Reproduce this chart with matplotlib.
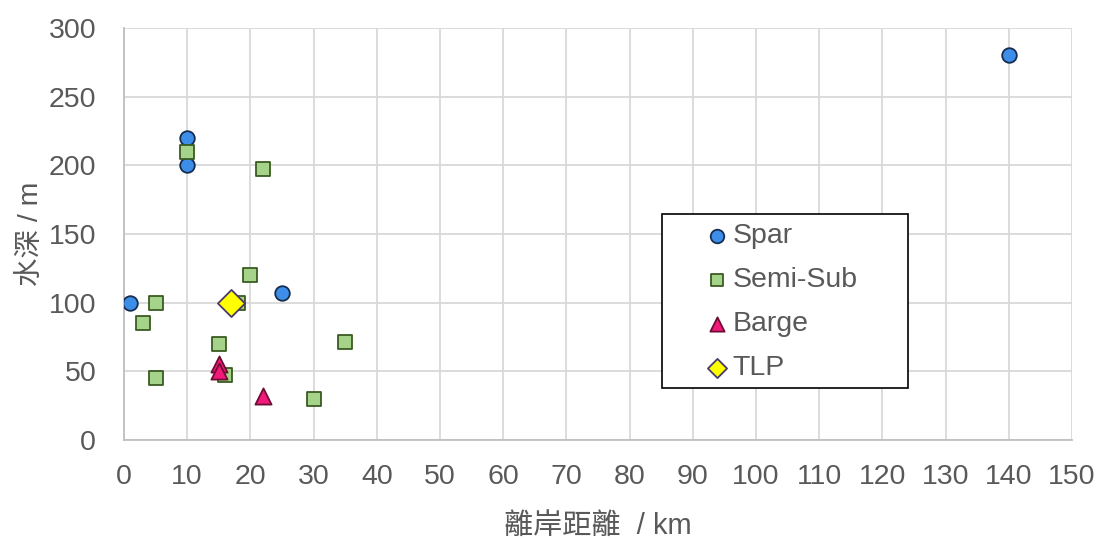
import matplotlib
matplotlib.use("Agg")
import matplotlib.pyplot as plt
from matplotlib.patches import Rectangle

plt.rcParams['font.family'] = ['Liberation Sans', 'Noto Sans CJK TC', 'DejaVu Sans']

# Offshore wind floating platforms: distance from shore (km) vs water depth (m)
spar_x = [10, 10, 1, 25, 140]
spar_y = [220, 200, 100, 107, 280]

semisub_x = [10, 22, 20, 5, 18, 3, 15, 16, 5, 35, 30]
semisub_y = [210, 197, 120, 100, 100, 85, 70, 47, 45, 71, 30]

barge_x = [15, 15, 22]
barge_y = [55, 50, 32]

tlp_x = [17]
tlp_y = [100]

x_ticks = list(range(0, 151, 10))
y_ticks = list(range(0, 301, 50))

text_color = '#595959'
tick_size = 20.5

fig = plt.figure(figsize=(10.99, 5.39), dpi=100)
ax = fig.add_axes([0.1128, 0.1837, 0.8626, 0.7643])

ax.scatter(spar_x, spar_y, s=110, marker='o', facecolor='#3d8ee8',
           edgecolor='#172d4f', linewidth=1.3, zorder=3, label='Spar')
ax.scatter(semisub_x, semisub_y, s=115, marker='s', facecolor='#a6d38a',
           edgecolor='#3a5a22', linewidth=1.3, zorder=3, label='Semi-Sub')
ax.scatter(barge_x, barge_y, s=135, marker='^', facecolor='#f2197a',
           edgecolor='#6e0d33', linewidth=1.3, zorder=3, label='Barge')
ax.scatter(tlp_x, tlp_y, s=190, marker='D', facecolor='#ffff00',
           edgecolor='#4a3a6a', linewidth=1.3, zorder=4, label='TLP')

ax.set_xlim(0, 150)
ax.set_ylim(0, 300)
ax.set_xticks(x_ticks)
ax.set_yticks(y_ticks)
ax.grid(True, color='#d9d9d9', linewidth=1.3)
ax.set_axisbelow(True)
for side in ['top', 'right']:
    ax.spines[side].set_visible(False)
for side in ['left', 'bottom']:
    ax.spines[side].set_color('#bfbfbf')
    ax.spines[side].set_linewidth(1.3)
ax.tick_params(length=0, labelsize=tick_size, colors=text_color)
ax.tick_params(axis='x', pad=17)
ax.tick_params(axis='y', pad=20)

ax.set_xlabel('離岸距離  / km', fontsize=21, color=text_color, labelpad=16)
ax.set_ylabel('水深 / m', fontsize=20.5, color=text_color, labelpad=3)

# Legend box drawn as a separate frame, entries placed inside it
ax.add_patch(Rectangle((0.5675, 0.126), 0.2595, 0.4225, transform=ax.transAxes,
                       facecolor='white', edgecolor='black', linewidth=1.2,
                       zorder=5, clip_on=False))
leg = ax.legend(loc='upper left', bbox_to_anchor=(0.6102, 0.526),
                fontsize=tick_size, frameon=False, labelcolor=text_color,
                handletextpad=0.05, borderpad=0, labelspacing=0.63,
                borderaxespad=0, handlelength=1.0)
leg.set_zorder(6)
for handle, size in zip(leg.legend_handles, [95, 85, 105, 95]):
    handle.set_sizes([size])

fig.savefig('out.png', dpi=100)
